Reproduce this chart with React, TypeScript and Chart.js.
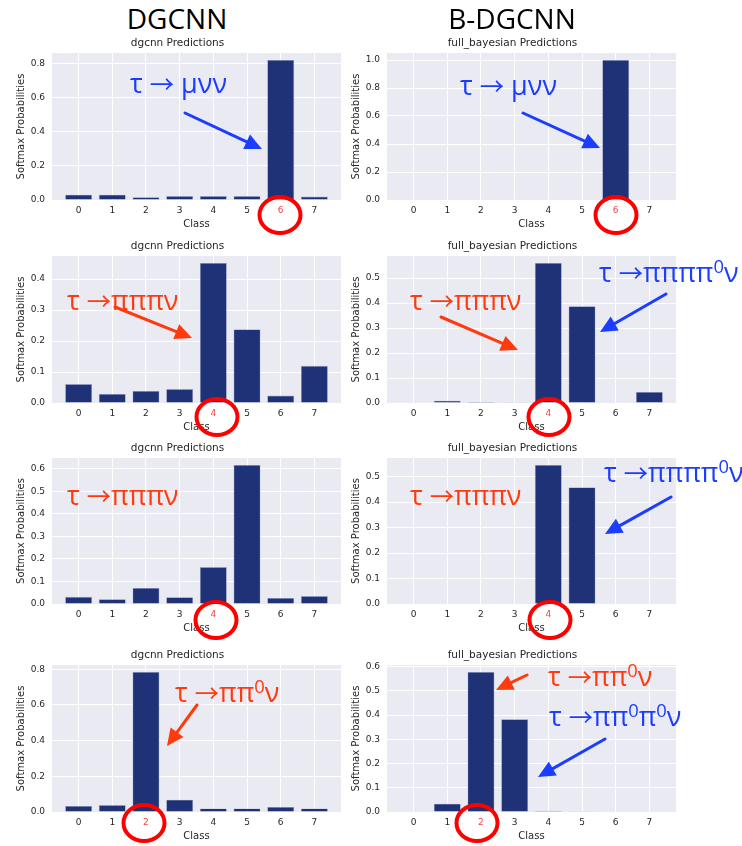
import React, { useEffect, useRef } from "react";
import { Chart, registerables } from "chart.js";

Chart.register(...registerables);

// ---------- data ----------
const classes = [0, 1, 2, 3, 4, 5, 6, 7];
const dgcnnRow1 = [0.031, 0.031, 0.016, 0.023, 0.023, 0.023, 0.82, 0.02];
const bayesRow1 = [0, 0, 0, 0, 0, 0, 1.0, 0];
const dgcnnRow2 = [0.061, 0.029, 0.039, 0.045, 0.452, 0.238, 0.024, 0.12];
const bayesRow2 = [0, 0.009, 0.004, 0.003, 0.56, 0.387, 0, 0.044];
const dgcnnRow3 = [0.032, 0.021, 0.071, 0.03, 0.164, 0.617, 0.027, 0.035];
const bayesRow3 = [0, 0, 0, 0, 0.546, 0.458, 0, 0];
const dgcnnRow4 = [0.034, 0.039, 0.785, 0.069, 0.02, 0.02, 0.028, 0.02];
const bayesRow4 = [0, 0.034, 0.578, 0.383, 0.005, 0.003, 0, 0];
const trueClass = [6, 4, 4, 2];
const yStepLeft = [0.2, 0.1, 0.1, 0.2];
const yStepRight = [0.2, 0.1, 0.1, 0.1];
const leftTitle = "dgcnn Predictions";
const rightTitle = "full_bayesian Predictions";

// ---------- styles ----------
const BAR = "#1f3277";
const DARK = "#262626";
const TICK_RED = "#f0464a";
const ANN_RED = "#ff3a0c";
const ANN_BLUE = "#1b3dff";
const CIRCLE_RED = "#ff0000";
const FONT = "DejaVu Sans";

const rowPlot = [
  [53, 200],
  [256, 403],
  [458, 604],
  [665, 812],
];
const TITLE_H = 16;
const XAXIS_H = 32;
const PANEL_W = 371;

const bgPlugin = {
  id: "bgArea",
  beforeDraw(chart: any) {
    const { ctx, chartArea } = chart;
    if (!chartArea) return;
    ctx.save();
    ctx.fillStyle = "#EAEAF2";
    ctx.fillRect(chartArea.left, chartArea.top, chartArea.right - chartArea.left, chartArea.bottom - chartArea.top);
    ctx.restore();
  },
};

function Panel(props: {
  values: number[];
  title: string;
  highlight: number;
  step: number;
  left: number;
  plotTop: number;
  plotBottom: number;
}) {
  const { values, title, highlight, step, left, plotTop, plotBottom } = props;
  const ref = useRef<HTMLCanvasElement>(null);
  const height = TITLE_H + (plotBottom - plotTop) + XAXIS_H;

  useEffect(() => {
    const yMax = Math.max(...values) * 1.05;
    const chart = new Chart(ref.current as HTMLCanvasElement, {
      type: "bar",
      data: {
        datasets: [
          {
            data: classes.map((c, i) => ({ x: c, y: values[i] })),
            backgroundColor: BAR,
            borderColor: "rgba(120,135,185,0.6)",
            borderWidth: 0.6,
            barPercentage: 0.8,
            categoryPercentage: 1,
          } as any,
        ],
      },
      options: {
        responsive: false,
        animation: false,
        devicePixelRatio: 1,
        layout: { padding: { left: 14, right: 30, top: 0, bottom: 0 } },
        plugins: {
          legend: { display: false },
          tooltip: { enabled: false },
          title: {
            display: true,
            text: title,
            color: DARK,
            font: { family: FONT, size: 10.5, weight: "normal", lineHeight: 1.2 },
            padding: { top: 0.4, bottom: 3 },
          },
        },
        scales: {
          x: {
            type: "linear",
            min: -0.79,
            max: 7.79,
            offset: false,
            grid: { color: "#ffffff", lineWidth: 1, drawTicks: false, offset: false },
            border: { display: false },
            afterBuildTicks: (s: any) => {
              s.ticks = classes.map((v) => ({ value: v }));
            },
            afterFit: (s: any) => {
              s.height = XAXIS_H;
            },
            ticks: {
              padding: 5.5,
              autoSkip: false,
              maxRotation: 0,
              color: (ctx: any) => (ctx.tick && ctx.tick.value === highlight ? TICK_RED : DARK),
              font: { family: FONT, size: 9 },
              callback: (v: any) => String(v),
            },
            title: {
              display: true,
              text: "Class",
              color: DARK,
              font: { family: FONT, size: 10 },
              padding: { top: 0, bottom: 2 },
            },
          },
          y: {
            min: 0,
            max: yMax,
            grid: { color: "#ffffff", lineWidth: 1, drawTicks: false },
            border: { display: false },
            afterBuildTicks: (s: any) => {
              const t: any[] = [];
              for (let k = 0; k * step <= yMax + 1e-9; k++) t.push({ value: k * step });
              s.ticks = t;
            },
            afterFit: (s: any) => {
              s.width = 38;
            },
            ticks: {
              padding: 7,
              color: DARK,
              font: { family: FONT, size: 9 },
              callback: (v: any) => Number(v).toFixed(1),
            },
            title: {
              display: true,
              text: "Softmax Probabilities",
              color: DARK,
              font: { family: FONT, size: 10 },
              padding: { top: 1, bottom: 0 },
            },
          },
        },
      } as any,
      plugins: [bgPlugin],
    });
    return () => chart.destroy();
  }, []);

  return (
    <canvas
      ref={ref}
      width={PANEL_W}
      height={height}
      style={{ position: "absolute", left, top: plotTop - TITLE_H, width: PANEL_W, height }}
    />
  );
}

function Arrow({ x1, y1, x2, y2, color }: { x1: number; y1: number; x2: number; y2: number; color: string }) {
  const dx = x2 - x1;
  const dy = y2 - y1;
  const len = Math.hypot(dx, dy);
  const ux = dx / len;
  const uy = dy / len;
  const head = 17;
  const half = 8;
  const bx = x2 - ux * head;
  const by = y2 - uy * head;
  const pts = `${x2},${y2} ${bx - uy * half},${by + ux * half} ${bx + uy * half},${by - ux * half}`;
  return (
    <g>
      <line x1={x1} y1={y1} x2={bx + ux * 2} y2={by + uy * 2} stroke={color} strokeWidth={3} strokeLinecap="round" />
      <polygon points={pts} fill={color} />
    </g>
  );
}

function Label({ x, y, color, children }: { x: number; y: number; color: string; children: any }) {
  return (
    <div
      style={{
        position: "absolute",
        left: x,
        top: y,
        transform: "translateY(-50%)",
        color,
        fontFamily: "'Open Sans', sans-serif",
        fontSize: 27,
        lineHeight: "32px",
        whiteSpace: "nowrap",
      }}
    >
      {children}
    </div>
  );
}

const Arr = () => (
  <span style={{ fontFamily: "'Noto Sans CJK JP', 'DejaVu Sans', sans-serif", fontSize: "0.9em" }}>→</span>
);

const Sup = ({ children }: { children: any }) => (
  <span style={{ fontSize: "0.68em", position: "relative", top: "-0.5em" }}>{children}</span>
);

export default function App() {
  const leftVals = [dgcnnRow1, dgcnnRow2, dgcnnRow3, dgcnnRow4];
  const rightVals = [bayesRow1, bayesRow2, bayesRow3, bayesRow4];
  const circles = [
    [280, 215],
    [616, 215],
    [217, 417],
    [549, 417],
    [216, 620],
    [550, 620],
    [144, 823],
    [477, 823],
  ];
  return (
    <div style={{ position: "absolute", left: 0, top: 0, width: 742, height: 846, background: "#ffffff", overflow: "hidden" }}>
      {rowPlot.map((r, i) => (
        <React.Fragment key={i}>
          <Panel values={leftVals[i]} title={leftTitle} highlight={trueClass[i]} step={yStepLeft[i]} left={0} plotTop={r[0]} plotBottom={r[1]} />
          <Panel values={rightVals[i]} title={rightTitle} highlight={trueClass[i]} step={yStepRight[i]} left={335} plotTop={r[0]} plotBottom={r[1]} />
        </React.Fragment>
      ))}

      <div style={{ position: "absolute", left: 177, top: 18, transform: "translate(-50%,-50%)", fontFamily: "'Open Sans', sans-serif", fontSize: 28, lineHeight: "34px", color: "#000" }}>
        DGCNN
      </div>
      <div style={{ position: "absolute", left: 512, top: 18, transform: "translate(-50%,-50%)", fontFamily: "'Open Sans', sans-serif", fontSize: 28, lineHeight: "34px", color: "#000" }}>
        B-DGCNN
      </div>

      <Label x={130} y={83} color={ANN_BLUE}>τ <Arr /> μνν</Label>
      <Label x={460} y={85} color={ANN_BLUE}>τ <Arr /> μνν</Label>
      <Label x={67} y={300} color={ANN_RED}>τ <Arr />πππν</Label>
      <Label x={410} y={300} color={ANN_RED}>τ <Arr />πππν</Label>
      <Label x={599} y={273} color={ANN_BLUE}>τ <Arr />ππππ<Sup>0</Sup>ν</Label>
      <Label x={67} y={495} color={ANN_RED}>τ <Arr />πππν</Label>
      <Label x={410} y={495} color={ANN_RED}>τ <Arr />πππν</Label>
      <Label x={604} y={473} color={ANN_BLUE}>τ <Arr />ππππ<Sup>0</Sup>ν</Label>
      <Label x={175} y={693} color={ANN_RED}>τ <Arr />ππ<Sup>0</Sup>ν</Label>
      <Label x={548} y={677} color={ANN_RED}>τ <Arr />ππ<Sup>0</Sup>ν</Label>
      <Label x={549} y={717} color={ANN_BLUE}>τ <Arr />ππ<Sup>0</Sup>π<Sup>0</Sup>ν</Label>

      <svg width={742} height={846} style={{ position: "absolute", left: 0, top: 0, pointerEvents: "none" }}>
        <Arrow x1={185} y1={113} x2={262} y2={149} color={ANN_BLUE} />
        <Arrow x1={523} y1={113} x2={600} y2={148} color={ANN_BLUE} />
        <Arrow x1={115} y1={307} x2={192} y2={338} color={ANN_RED} />
        <Arrow x1={441} y1={317} x2={518} y2={350} color={ANN_RED} />
        <Arrow x1={666} y1={294} x2={600} y2={332} color={ANN_BLUE} />
        <Arrow x1={671} y1={497} x2={605} y2={534} color={ANN_BLUE} />
        <Arrow x1={197} y1={705} x2={167} y2={746} color={ANN_RED} />
        <Arrow x1={527} y1={675} x2={496} y2={690} color={ANN_RED} />
        <Arrow x1={605} y1={739} x2={538} y2={777} color={ANN_BLUE} />
        {circles.map((c, i) => (
          <ellipse key={i} cx={c[0]} cy={c[1]} rx={20.5} ry={18} fill="none" stroke={CIRCLE_RED} strokeWidth={4} />
        ))}
      </svg>
    </div>
  );
}
